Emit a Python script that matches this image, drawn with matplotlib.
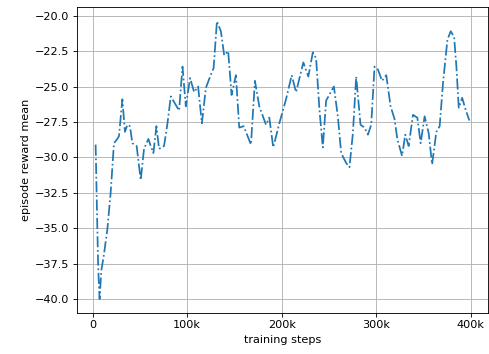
import matplotlib
matplotlib.use('Agg')
import matplotlib.pyplot as plt
from matplotlib.ticker import FuncFormatter, MultipleLocator
import numpy as np

# training steps (thousands) and episode reward mean
steps_k = [3.2, 5.8, 6.7, 7.4, 9.2, 11.7, 15.6, 19.1, 22.6, 26.2,
           27.9, 31.5, 34.2, 36.8, 39.5, 42.1, 46.6, 50.9, 54.4, 59.0,
           61.5, 64.3, 67.5, 70.3, 75.6, 79.2, 82.7, 88.0, 91.5, 95.1,
           98.6, 103.1, 107.4, 111.6, 115.6, 119.8, 124.3, 128.0, 131.5, 135.7,
           139.2, 143.4, 147.0, 151.6, 155.1, 159.8, 167.5, 171.7, 176.3, 183.4,
           186.9, 191.1, 197.5, 204.6, 210.6, 215.2, 222.9, 228.2, 232.9, 236.4,
           239.9, 243.5, 247.0, 255.2, 259.4, 262.9, 268.2, 271.7, 275.3, 278.8,
           283.4, 287.6, 291.2, 294.7, 298.2, 301.8, 306.1, 310.6, 315.2, 319.4,
           322.3, 327.3, 330.7, 334.3, 338.9, 343.5, 347.0, 351.2, 355.5, 359.1,
           363.6, 367.1, 370.7, 375.3, 378.8, 382.4, 384.8, 387.3, 390.9, 394.4,
           398.5]
reward = [-29.1, -37.5, -39.0, -40.0, -38.0, -37.0, -35.1, -32.5, -29.0, -28.7,
          -28.5, -25.9, -28.2, -27.7, -27.8, -29.0, -29.2, -31.6, -29.4, -28.7,
          -29.2, -29.7, -27.8, -29.4, -29.2, -27.6, -25.7, -26.3, -26.7, -23.6,
          -26.4, -24.4, -25.4, -25.0, -27.6, -25.1, -24.3, -23.7, -20.4, -21.1,
          -22.8, -22.5, -25.6, -24.2, -27.9, -27.8, -29.1, -24.6, -26.4, -27.7,
          -27.2, -29.3, -27.6, -25.9, -24.2, -25.4, -23.3, -24.3, -22.6, -23.0,
          -26.6, -29.3, -26.0, -25.0, -27.1, -29.7, -30.4, -30.7, -28.3, -24.3,
          -27.7, -27.9, -28.4, -27.7, -23.6, -23.8, -24.6, -24.2, -26.4, -27.3,
          -28.7, -29.9, -28.4, -29.2, -27.0, -27.2, -29.0, -27.1, -28.3, -30.5,
          -28.2, -27.8, -24.7, -21.7, -21.1, -21.5, -23.6, -26.5, -25.8, -26.6,
          -27.4]

steps = np.array(steps_k) * 1000

plt.rcParams['font.size'] = 10.4

dpi = 77.8
fig = plt.figure(figsize=(490 / dpi, 354 / dpi), dpi=dpi)
ax = fig.add_axes([0.157, 0.116, 0.839, 0.863])

ax.plot(steps, reward, '-.', linewidth=1.6)
ax.grid(True)
ax.xaxis.set_major_locator(MultipleLocator(100000))
ax.xaxis.set_major_formatter(FuncFormatter(lambda v, p: '0' if v == 0 else f'{int(v / 1000)}k'))
ax.set_xlabel('training steps')
ax.set_ylabel('episode reward mean')

fig.savefig('out.png', dpi=dpi)
